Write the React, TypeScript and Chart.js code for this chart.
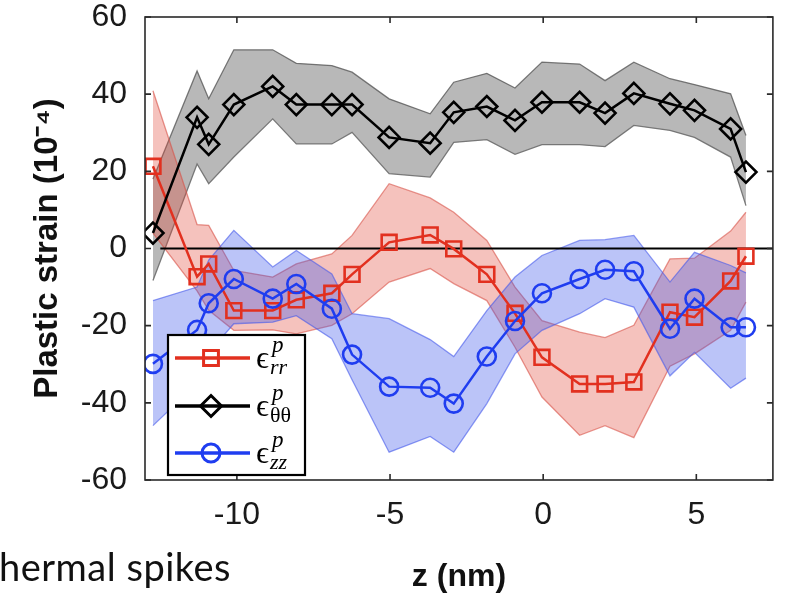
import React, { useEffect, useRef } from 'react';
import { Chart, registerables } from 'chart.js';

Chart.register(...registerables);

// z positions (nm)
const zPos = [-12.74, -11.3, -10.92, -10.1, -8.83, -8.06, -6.9, -6.24, -5.03, -3.69, -2.92, -1.84, -0.92, -0.04, 1.19, 2.02, 2.96, 4.14, 4.94, 6.12, 6.62];

// epsilon_rr
const rrMean = [21.3, -7.3, -4.0, -16.1, -16.1, -13.3, -11.6, -6.7, 1.6, 3.5, -0.1, -6.7, -16.8, -28.2, -35.1, -35.1, -34.6, -16.5, -17.8, -8.4, -2.0];
const rrUpper = [40.9, 6.2, 6.0, -5.7, -7.4, -4.0, -1.4, 3.4, 16.8, 13.1, 9.4, 2.1, -10.0, -18.7, -21.7, -23.1, -19.9, -2.7, -2.5, 4.5, 9.4];
const rrLower = [4.0, -11.0, -16.0, -21.2, -21.1, -22.1, -19.9, -16.9, -8.7, -5.2, -9.1, -13.5, -25.6, -38.5, -48.4, -45.9, -49.0, -30.5, -27.3, -21.2, -13.9];

// epsilon_thetatheta
const ttMean = [4.0, 34.0, 27.0, 37.3, 42.0, 37.3, 37.3, 37.3, 28.8, 27.3, 35.3, 36.8, 33.2, 37.9, 37.9, 35.1, 40.2, 37.5, 35.8, 31.0, 19.8];
const ttUpper = [18.0, 46.0, 38.8, 51.5, 51.5, 48.0, 47.4, 45.7, 38.8, 34.9, 43.1, 45.4, 41.6, 48.3, 47.8, 43.5, 48.3, 44.0, 42.5, 40.1, 29.3];
const ttLower = [-8.3, 21.9, 16.8, 23.7, 33.6, 27.1, 27.1, 30.1, 19.4, 18.5, 27.5, 28.2, 24.4, 26.9, 26.9, 26.4, 31.9, 30.6, 28.8, 23.7, 11.1];

// epsilon_zz
const zzMean = [-29.9, -21.1, -14.2, -7.9, -13.0, -9.2, -15.6, -27.5, -35.8, -36.1, -40.2, -28.0, -18.8, -11.6, -7.9, -5.5, -5.9, -20.8, -13.0, -20.4, -20.4];
const zzUpper = [-13.5, -10.0, -3.0, 4.7, -4.8, -0.5, -6.6, -16.9, -18.2, -23.6, -28.0, -16.1, -7.4, -1.8, 2.1, 2.3, 3.4, -8.7, -1.0, -4.4, -6.3];
const zzLower = [-45.9, -35.0, -27.0, -19.5, -19.1, -17.4, -23.4, -34.0, -52.8, -48.7, -52.8, -40.2, -27.3, -21.2, -16.9, -13.0, -15.2, -33.0, -26.9, -36.2, -33.6];

// zero reference line
const zeroLineZ = [-12.5, 7.5];
const zeroLineVal = [0, 0];

const xTickValues = [-10, -5, 0, 5];
const yTickValues = [-60, -40, -20, 0, 20, 40, 60];

const legendSubs = ['rr', 'θθ', 'zz'];
const legendItalicSub = [true, false, true];

const RED = '#e2301f';
const BLACK = '#000000';
const BLUE = '#1f3df0';
const SANS = 'Arial, "Liberation Sans", Helvetica, sans-serif';
const SERIF = '"Liberation Serif", "DejaVu Serif", "Times New Roman", serif';

const pts = (xs: number[], ys: number[]) => xs.map((x, i) => ({ x, y: ys[i] }));

function drawMarker(ctx: CanvasRenderingContext2D, kind: string, x: number, y: number) {
  ctx.beginPath();
  if (kind === 'rect') {
    const h = 10.5 * Math.SQRT1_2;
    ctx.rect(x - h, y - h, 2 * h, 2 * h);
  } else if (kind === 'rectRot') {
    const r = 10.5;
    ctx.moveTo(x - r, y);
    ctx.lineTo(x, y - r);
    ctx.lineTo(x + r, y);
    ctx.lineTo(x, y + r);
    ctx.closePath();
  } else {
    ctx.arc(x, y, 9, 0, Math.PI * 2);
  }
  ctx.stroke();
}

const framePlugin = {
  id: 'frame',
  afterDatasetsDraw(chart: any) {
    const { ctx, chartArea, scales } = chart;
    const { left, right, top, bottom } = chartArea;
    ctx.save();
    ctx.strokeStyle = '#2a2a2a';
    ctx.lineWidth = 1.6;
    ctx.strokeRect(left, top, right - left, bottom - top);
    const tl = 6;
    ctx.beginPath();
    xTickValues.forEach((v) => {
      const px = scales.x.getPixelForValue(v);
      ctx.moveTo(px, bottom);
      ctx.lineTo(px, bottom - tl);
      ctx.moveTo(px, top);
      ctx.lineTo(px, top + tl);
    });
    yTickValues.forEach((v) => {
      const py = scales.y.getPixelForValue(v);
      ctx.moveTo(left, py);
      ctx.lineTo(left + tl, py);
      ctx.moveTo(right, py);
      ctx.lineTo(right - tl, py);
    });
    ctx.stroke();
    ctx.restore();
  },
};

const legendPlugin = {
  id: 'customLegend',
  afterDraw(chart: any) {
    const { ctx, chartArea } = chart;
    const bx = chartArea.left + 23;
    const by = chartArea.bottom - 145;
    const bw = 137;
    const bh = 140;
    ctx.save();
    ctx.fillStyle = '#ffffff';
    ctx.fillRect(bx, by, bw, bh);
    ctx.strokeStyle = '#000';
    ctx.lineWidth = 2.2;
    ctx.strokeRect(bx, by, bw, bh);
    const colors = [RED, BLACK, BLUE];
    const kinds = ['rect', 'rectRot', 'circle'];
    const rowY = [23, 71, 118];
    for (let i = 0; i < 3; i++) {
      const y = by + rowY[i];
      ctx.strokeStyle = colors[i];
      ctx.lineWidth = 3.5;
      ctx.beginPath();
      ctx.moveTo(bx + 7, y);
      ctx.lineTo(bx + 82, y);
      ctx.stroke();
      ctx.lineWidth = 3;
      drawMarker(ctx, kinds[i], bx + 43, y);
      ctx.fillStyle = '#000';
      ctx.textBaseline = 'alphabetic';
      ctx.textAlign = 'left';
      ctx.font = `32px ${SERIF}`;
      const tx = bx + 88;
      ctx.fillText('ϵ', tx, y + 10);
      const w = ctx.measureText('ϵ').width;
      ctx.font = `italic 23px ${SERIF}`;
      ctx.fillText('p', tx + w + 3, y - 6);
      ctx.font = `${legendItalicSub[i] ? 'italic ' : ''}22px ${SERIF}`;
      ctx.fillText(legendSubs[i], tx + w + 1, y + 16);
    }
    ctx.restore();
  },
};

export default function App() {
  const ref = useRef<HTMLCanvasElement>(null);

  useEffect(() => {
    const band = (up: number[], lo: number[], fill: string, border: string) => [
      {
        data: pts(zPos, up),
        borderColor: border,
        borderWidth: 1.3,
        backgroundColor: fill,
        pointRadius: 0,
        fill: '+1',
      },
      {
        data: pts(zPos, lo),
        borderColor: border,
        borderWidth: 1.3,
        backgroundColor: fill,
        pointRadius: 0,
        fill: false,
      },
    ];
    const mainLine = (ys: number[], color: string, style: string, r: number) => ({
      data: pts(zPos, ys),
      borderColor: color,
      borderWidth: 2.5,
      pointStyle: style,
      pointRadius: r,
      pointBorderWidth: 2.6,
      pointBorderColor: color,
      pointBackgroundColor: 'rgba(0,0,0,0)',
      fill: false,
    });

    const chart = new Chart(ref.current as HTMLCanvasElement, {
      type: 'line',
      data: {
        datasets: [
          mainLine(zzMean, BLUE, 'circle', 9),
          mainLine(ttMean, BLACK, 'rectRot', 10.5),
          mainLine(rrMean, RED, 'rect', 10.5),
          {
            data: pts(zeroLineZ, zeroLineVal),
            borderColor: '#000',
            borderWidth: 2.2,
            pointRadius: 0,
            fill: false,
          },
          ...band(zzUpper, zzLower, 'rgba(60,85,235,0.35)', 'rgba(70,90,235,0.6)'),
          ...band(rrUpper, rrLower, 'rgba(225,70,55,0.33)', 'rgba(215,80,70,0.6)'),
          ...band(ttUpper, ttLower, 'rgba(110,110,110,0.49)', 'rgba(80,80,80,0.75)'),
        ] as any,
      },
      options: {
        responsive: false,
        animation: false,
        events: [],
        layout: { padding: { top: 17, right: 5, left: 0, bottom: 0 } },
        elements: { line: { tension: 0 } },
        plugins: {
          legend: { display: false },
          tooltip: { enabled: false },
        },
        scales: {
          x: {
            type: 'linear',
            min: -13,
            max: 7.5,
            grid: { display: false, drawTicks: false },
            border: { display: false },
            afterBuildTicks: (s: any) => {
              s.ticks = xTickValues.map((v) => ({ value: v }));
            },
            afterFit: (s: any) => {
              s.height = 114;
              s.paddingLeft = 0;
              s.paddingRight = 0;
            },
            ticks: {
              font: { size: 32, family: SANS, lineHeight: 1.2 },
              color: '#1a1a1a',
              padding: 16,
              maxRotation: 0,
            },
            title: {
              display: true,
              text: 'z (nm)',
              font: { size: 32, weight: 'bold', family: SANS, lineHeight: 1.0 },
              color: '#111',
              padding: { top: 0, bottom: 1 },
            },
          },
          y: {
            type: 'linear',
            min: -60,
            max: 60,
            grid: { display: false, drawTicks: false },
            border: { display: false },
            afterBuildTicks: (s: any) => {
              s.ticks = yTickValues.map((v) => ({ value: v }));
            },
            afterFit: (s: any) => {
              s.width = 145;
              s.paddingTop = 0;
              s.paddingBottom = 0;
            },
            ticks: {
              font: { size: 32, family: SANS },
              color: '#1a1a1a',
              padding: 18,
            },
            title: {
              display: true,
              text: 'Plastic strain (10⁻⁴)',
              font: { size: 33, weight: 'bold', family: SANS, lineHeight: 1.0 },
              color: '#111',
              padding: { top: 31, bottom: 0 },
            },
          },
        },
      } as any,
      plugins: [framePlugin, legendPlugin],
    });
    return () => chart.destroy();
  }, []);

  return (
    <div style={{ position: 'absolute', left: 0, top: 0, width: 786, height: 594, background: '#fff', overflow: 'hidden' }}>
      <canvas ref={ref} width={786} height={594} style={{ width: 786, height: 594, display: 'block' }} />
      <div
        style={{
          position: 'absolute',
          left: -1,
          top: 544,
          fontFamily: 'Lato, "Open Sans", sans-serif',
          fontSize: 38,
          lineHeight: '44px',
          letterSpacing: '0.5px',
          color: '#111',
          whiteSpace: 'nowrap',
        }}
      >
        hermal spikes
      </div>
    </div>
  );
}
